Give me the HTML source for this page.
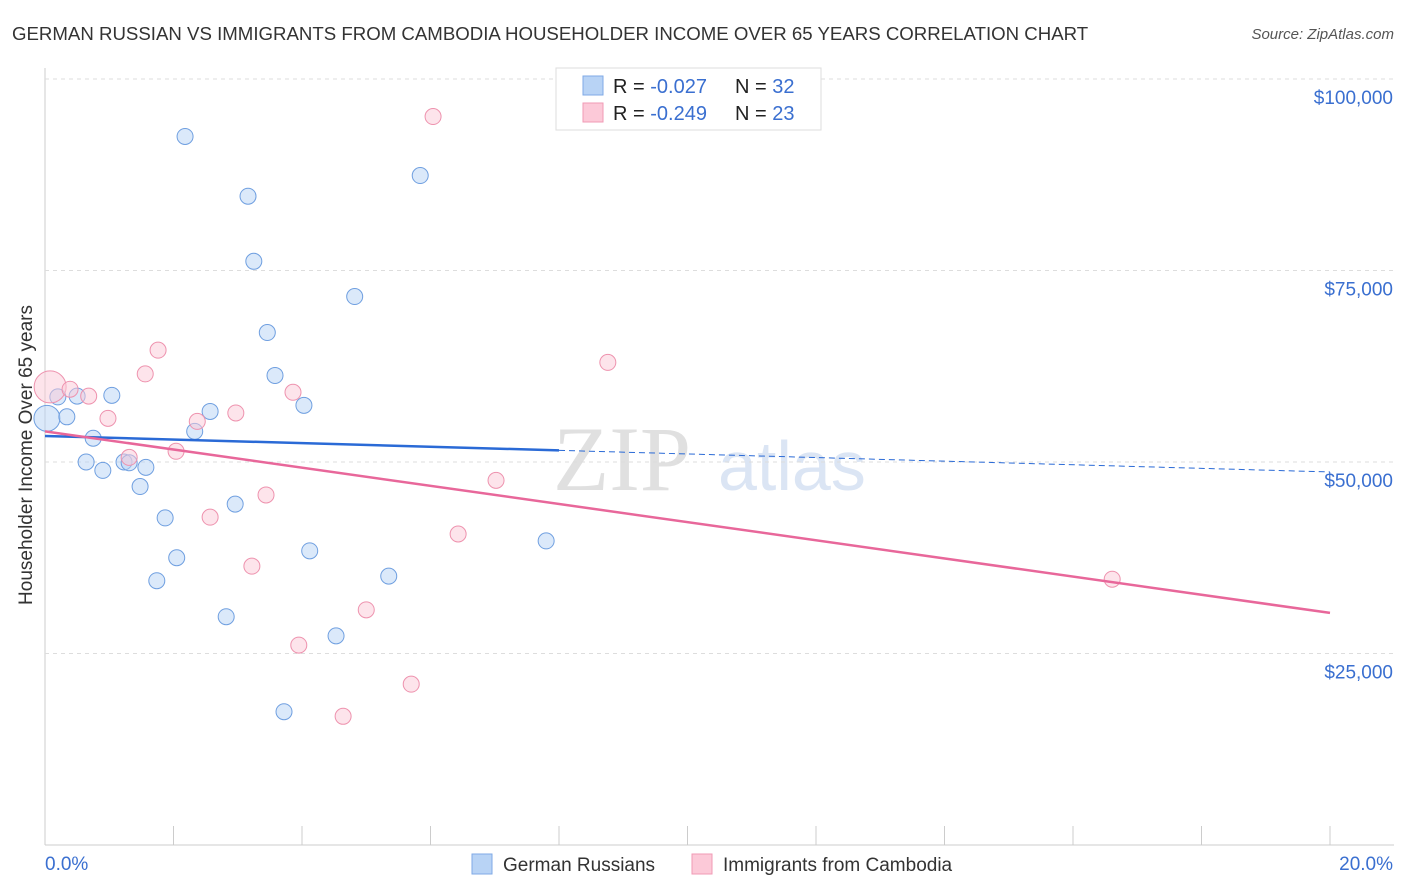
<!DOCTYPE html>
<html><head><meta charset="utf-8"><style>
body{margin:0;background:#fff;font-family:"Liberation Sans",sans-serif}
svg{display:block}
</style></head><body>
<svg id="c" width="1406" height="892" xmlns="http://www.w3.org/2000/svg">
<text x="12" y="40" font-size="18.65" fill="#333">GERMAN RUSSIAN VS IMMIGRANTS FROM CAMBODIA HOUSEHOLDER INCOME OVER 65 YEARS CORRELATION CHART</text>
<text x="1394" y="39" font-size="15" fill="#555" font-style="italic" text-anchor="end">Source: ZipAtlas.com</text>
<text x="32" y="455" font-size="19" fill="#333" text-anchor="middle" transform="rotate(-90 32 455)">Householder Income Over 65 years</text>
<text x="553" y="490" font-size="92" fill="#e0e0e0" font-family="Liberation Serif,serif">ZIP</text>
<text x="718" y="490" font-size="70" fill="#dbe5f4">atlas</text>
<g id="grid"></g><g id="marks"></g>
<g>
<rect x="556" y="68" width="265" height="62" fill="#fff" stroke="#ddd"/>
<rect x="583" y="76" width="20" height="19" fill="#b8d3f5" stroke="#7fa9e6"/>
<rect x="583" y="103" width="20" height="19" fill="#fcc9d8" stroke="#f09ab5"/>
<text x="613" y="93" font-size="20" fill="#222">R = <tspan fill="#3a6fd0">-0.027</tspan></text>
<text x="735" y="93" font-size="20" fill="#222">N = <tspan fill="#3a6fd0">32</tspan></text>
<text x="613" y="120" font-size="20" fill="#222">R = <tspan fill="#3a6fd0">-0.249</tspan></text>
<text x="735" y="120" font-size="20" fill="#222">N = <tspan fill="#3a6fd0">23</tspan></text>
</g>
<g>
<rect x="472" y="854" width="20" height="20" fill="#b8d3f5" stroke="#7fa9e6"/>
<text x="503" y="871" font-size="19" fill="#333">German Russians</text>
<rect x="692" y="854" width="20" height="20" fill="#fcc9d8" stroke="#f09ab5"/>
<text x="723" y="871" font-size="19" fill="#333">Immigrants from Cambodia</text>
</g>
</svg>
<script>
const blueX=[0.03,0.2,0.34,0.5,0.75,0.64,0.9,1.04,1.23,1.31,1.57,1.48,1.87,2.05,1.74,2.18,2.33,2.57,2.82,2.96,3.16,3.25,3.46,3.58,3.72,4.03,4.12,4.53,4.82,5.35,5.84,7.80];
const blueY=[55700,58500,55900,58600,53100,50000,48900,58700,50000,49900,49300,46800,42700,37500,34500,92500,54000,56600,29800,44500,84700,76200,66900,61300,17400,57400,38400,27300,71600,35100,87400,39700];
const pinkX=[0.08,0.39,0.68,0.98,1.31,1.56,1.76,2.04,2.37,2.57,2.97,3.22,3.44,3.86,3.95,4.64,5.0,5.70,6.04,6.43,7.02,8.76,16.61];
const pinkY=[59800,59500,58600,55700,50600,61500,64600,51400,55300,42800,56400,36400,45700,59100,26100,16800,30700,21000,95100,40600,47600,63000,34700];
const blueTrend=[53400,48700];
const pinkTrend=[54000,30300];
const yTicks=[25000,50000,75000,100000];
const yLabels=["$25,000","$50,000","$75,000","$100,000"];
const xTicks=[0,2,4,6,8,10,12,14,16,18,20];
const X=v=>45+v*64.25, Y=v=>845-v/25000*191.5;
const NS="http://www.w3.org/2000/svg";
function mk(t,a,p){const e=document.createElementNS(NS,t);for(const k in a)e.setAttribute(k,a[k]);p.appendChild(e);return e;}
const g=document.getElementById('grid'), m=document.getElementById('marks');
let ax=mk('line',{x1:45,y1:68,x2:45,y2:845,stroke:'#ccc'},g);

let bx=mk('line',{x1:45,y1:845,x2:1394,y2:845,stroke:'#ccc'},g);

yTicks.forEach((v,i)=>{
 const l=mk('line',{x1:45,y1:Y(v),x2:1394,y2:Y(v),stroke:'#ddd','stroke-dasharray':'4 4'},g);
 
 const t=mk('text',{x:1393,y:Y(v)+25,'font-size':19,fill:'#3a6fd0','text-anchor':'end'},g);t.textContent=yLabels[i];
 
});
xTicks.forEach(v=>{const l=mk('line',{x1:X(v),y1:826,x2:X(v),y2:845,stroke:'#ccc'},g);
 });
[["0.0%",45,'start'],["20.0%",1393,'end']].forEach(a=>{const t=mk('text',{x:a[1],y:870,'font-size':19,fill:'#3a6fd0','text-anchor':a[2]},g);t.textContent=a[0];
 });
function pts(xs,ys,f,s,big,name){xs.forEach((x,i)=>{const c=mk('circle',{cx:X(x),cy:Y(ys[i]),r:i===0?big:8,fill:f,'fill-opacity':0.5,stroke:s,'stroke-width':1},m);
 });}
pts(blueX,blueY,'#b8d3f5','#6f9fe0',13,'german-russian-point');
pts(pinkX,pinkY,'#fcc9d8','#ee92ae',16,'cambodia-point');
const bm=blueTrend[0]+(blueTrend[1]-blueTrend[0])*8/20;
let l1=mk('line',{x1:X(0),y1:Y(blueTrend[0]),x2:X(8),y2:Y(bm),stroke:'#2a6ad6','stroke-width':2.5},m);

let l2=mk('line',{x1:X(8),y1:Y(bm),x2:X(20),y2:Y(blueTrend[1]),stroke:'#2a6ad6','stroke-width':1,'stroke-dasharray':'6 4'},m);

let l3=mk('line',{x1:X(0),y1:Y(pinkTrend[0]),x2:X(20),y2:Y(pinkTrend[1]),stroke:'#e8679a','stroke-width':2.5},m);

</script>
</body></html>
